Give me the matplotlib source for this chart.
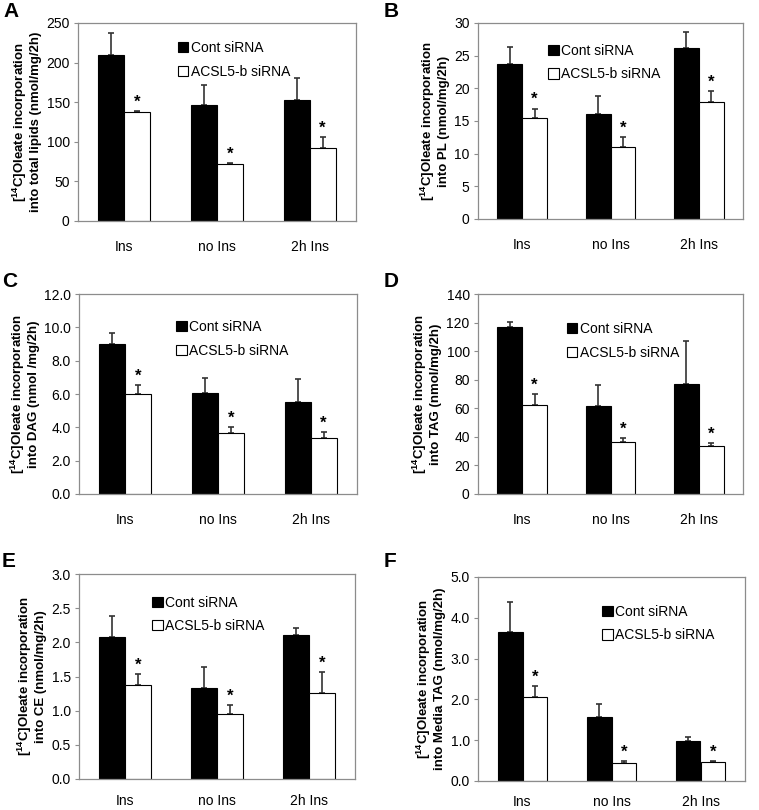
import numpy as np
import matplotlib
matplotlib.use('Agg')
import matplotlib.pyplot as plt
from matplotlib.patches import Patch

plt.rcParams['font.family'] = ['Liberation Sans', 'DejaVu Sans']
plt.rcParams['mathtext.fontset'] = 'custom'
plt.rcParams['mathtext.rm'] = 'Liberation Sans'
plt.rcParams['mathtext.bf'] = 'Liberation Sans:bold'

# data
groups = ['Ins', 'no Ins', '2h Ins']
series = ['Cont siRNA', 'ACSL5-b siRNA']

a_cont = [210, 147, 153]
a_cont_err = [28, 25, 27]
a_kd = [137, 72, 92]
a_kd_err = [1.5, 1.2, 14]

b_cont = [23.7, 16.1, 26.1]
b_cont_err = [2.6, 2.8, 2.5]
b_kd = [15.4, 11.0, 17.9]
b_kd_err = [1.5, 1.5, 1.7]

c_cont = [9.02, 6.05, 5.55]
c_cont_err = [0.64, 0.92, 1.34]
c_kd = [5.99, 3.65, 3.33]
c_kd_err = [0.56, 0.38, 0.36]

d_cont = [116.7, 61.4, 76.8]
d_cont_err = [3.5, 14.7, 30.5]
d_kd = [62.5, 36.4, 33.4]
d_kd_err = [7.7, 2.6, 2.1]

e_cont = [2.08, 1.33, 2.11]
e_cont_err = [0.30, 0.31, 0.10]
e_kd = [1.38, 0.95, 1.26]
e_kd_err = [0.15, 0.13, 0.31]

f_cont = [3.64, 1.58, 0.98]
f_cont_err = [0.75, 0.31, 0.11]
f_kd = [2.07, 0.45, 0.46]
f_kd_err = [0.25, 0.04, 0.03]

W, H = 759, 810
fig = plt.figure(figsize=(W / 100, H / 100), dpi=100)

def px_axes(left, top, right, bottom):
    return fig.add_axes([left / W, 1 - bottom / H, (right - left) / W, (bottom - top) / H])

panels = [
    # letter, letter pos (px), rect(px), cont, cont err, kd, kd err, ymax, step, fmt,
    # ylabel line 2, legend anchor (axes frac), xtick pad
    ('A', (3, 2), (78, 23, 356, 221), a_cont, a_cont_err, a_kd, a_kd_err, 250, 50, '%d',
     'into total lipids (nmol/mg/2h)', (0.36, 0.91), 14),
    ('B', (384, 2), (478, 23, 743, 219), b_cont, b_cont_err, b_kd, b_kd_err, 30, 5, '%d',
     'into PL (nmol/mg/2h)', (0.265, 0.895), 14),
    ('C', (2, 272), (79, 294, 357, 494), c_cont, c_cont_err, c_kd, c_kd_err, 12, 2, '%.1f',
     'into DAG (nmol /mg/2h)', (0.35, 0.87), 14),
    ('D', (384, 272), (478, 294, 743, 494), d_cont, d_cont_err, d_kd, d_kd_err, 140, 20, '%d',
     'into TAG (nmol/mg/2h)', (0.335, 0.86), 14),
    ('E', (2, 552), (79, 574, 355, 779), e_cont, e_cont_err, e_kd, e_kd_err, 3.0, 0.5, '%.1f',
     'into CE (nmol/mg/2h)', (0.265, 0.895), 11),
    ('F', (384, 552), (478, 577, 745, 781), f_cont, f_cont_err, f_kd, f_kd_err, 5.0, 1.0, '%.1f',
     'into Media TAG (nmol/mg/2h)', (0.465, 0.865), 10),
]

x = np.arange(len(groups))
bw = 0.28
frame = '#8c8c8c'

for letter, lpos, rect, cont, cerr, kd, kerr, ymax, step, fmt, ylab2, leg, xpad in panels:
    ax = px_axes(*rect)
    ax.bar(x - bw / 2, cont, bw, color='black', edgecolor='black', linewidth=0.8, zorder=2)
    ax.bar(x + bw / 2, kd, bw, color='white', edgecolor='black', linewidth=0.8, zorder=2)
    ax.errorbar(x - bw / 2, cont, yerr=[np.zeros(3), cerr], fmt='none', ecolor='#333333',
                elinewidth=1.2, capsize=2.5, capthick=1.2, zorder=1)
    ax.errorbar(x + bw / 2, kd, yerr=[np.zeros(3), kerr], fmt='none', ecolor='#333333',
                elinewidth=1.2, capsize=2.5, capthick=1.2, zorder=1)
    for xi, v, e in zip(x + bw / 2, kd, kerr):
        ax.annotate('*', (xi, v + e), xytext=(0, 1), textcoords='offset points',
                    ha='center', va='bottom', fontsize=12, fontweight='bold')

    ax.set_xlim(-0.5, 2.5)
    ax.set_ylim(0, ymax)
    ax.set_yticks(np.arange(0, ymax + step / 2, step))
    ax.yaxis.set_major_formatter(matplotlib.ticker.FormatStrFormatter(fmt))
    ax.set_xticks(x)
    ax.set_xticklabels(groups)
    ax.tick_params(axis='x', length=0, pad=xpad, labelsize=10)
    ax.tick_params(axis='y', length=3, width=0.8, color=frame, labelsize=10, pad=3)
    for s in ax.spines.values():
        s.set_color(frame)
        s.set_linewidth(0.9)
    ax.set_ylabel('[$\\mathbf{^{14}}$C]Oleate incorporation\n' + ylab2,
                  fontsize=9.5, fontweight='bold', labelpad=3, linespacing=1.1)

    handles = [Patch(facecolor='black', edgecolor='black', linewidth=0.8),
               Patch(facecolor='white', edgecolor='black', linewidth=0.8)]
    ax.legend(handles, series, loc='upper left', bbox_to_anchor=leg, frameon=False,
              fontsize=10, handlelength=0.75, handleheight=0.75, handletextpad=0.2,
              labelspacing=0.7, borderaxespad=0, borderpad=0)

    fig.text(lpos[0] / W, 1 - lpos[1] / H, letter, fontsize=15, fontweight='bold',
             ha='left', va='top')

fig.savefig('out.png', dpi=100)
